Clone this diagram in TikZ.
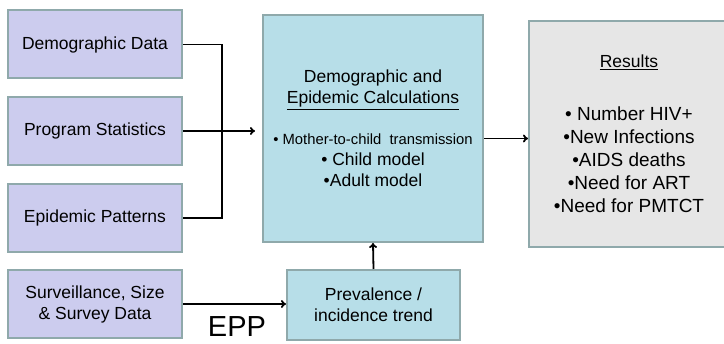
\documentclass[tikz,border=0pt]{standalone}
\usepackage{fontspec}
\setmainfont{Liberation Sans}
\usetikzlibrary{positioning,arrows.meta}
\definecolor{inputfill}{HTML}{CCCCEE}
\definecolor{calcfill}{HTML}{B7DEE8}
\definecolor{resfill}{HTML}{E6E6E6}
\definecolor{boxline}{HTML}{8FA9AB}
\tikzset{
  box/.style={draw=boxline,line width=2pt,align=center,inner sep=0pt},
  inbox/.style={box,fill=inputfill,minimum width=174pt,minimum height=68pt},
  link/.style={line width=1.8pt,-{To[length=5pt,width=8pt]}},
}
\begin{document}
\begin{tikzpicture}[x=1pt,y=-1pt,font=\fontsize{17.5}{21}\selectfont]
			\useasboundingbox (0,0) rectangle (724,344);
			%Inputs
			\node[inbox] (dem)  at (95,44.5)  {Demographic Data};
			\node[inbox] (prog) at (95,131)   {Program Statistics};
			\node[inbox] (epi)  at (95,218)   {Epidemic Patterns};
			\node[inbox] (surv) at (95,304)   {Surveillance, Size\\\& Survey Data};
			%Model
			\node[box,fill=calcfill,minimum width=220pt,minimum height=227pt] (calc) at (373,128.5)
				{Demographic and\\\underline{Epidemic Calculations}\\[20pt]
				{\fontsize{14.8}{21}\selectfont\textbullet\ Mother-to-child\ \ transmission}\\
				\textbullet\ Child model\\\textbullet Adult model};
			\node[box,fill=calcfill,minimum width=173pt,minimum height=70pt] (prev) at (373.5,305)
				{Prevalence /\\incidence trend};
			\node[font=\fontsize{29}{30}\selectfont,inner sep=0pt,anchor=base] (epp) at (237,337) {EPP};
			%Results
			\node[box,fill=resfill,minimum width=200pt,minimum height=226pt,font=\fontsize{19}{23}\selectfont] (res) at (629,134)
				{{\fontsize{17.5}{21}\selectfont\underline{Results}}\\[30pt]
				\textbullet\ Number HIV+\\\textbullet New Infections\\\textbullet AIDS deaths\\
				\textbullet Need for ART\\\textbullet Need for PMTCT};
			%Connectors
			\coordinate (join) at (222,131);
			\draw[line width=1.8pt] (dem.east) -| (join) |- (epi.east);
			\draw[link,shorten >=7pt] (prog.east) -- (prog.east -| calc.west);
			\draw[link] ([yshift=-10pt]calc.east) -- ([yshift=-10pt]calc.east -| res.west);
			\draw[link] (prev.north) -- (calc.south);
			\draw[link] (surv.east) -- (surv.east -| prev.west);
		\end{tikzpicture}
\end{document}
